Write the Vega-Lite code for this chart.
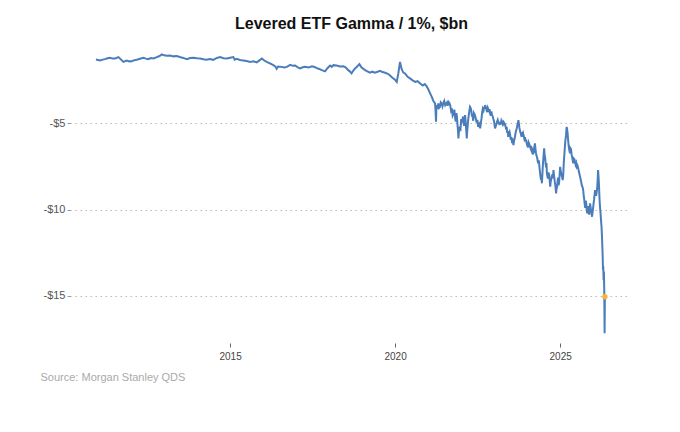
{
  "$schema": "https://vega.github.io/schema/vega-lite/v6.json",
  "width": 553,
  "height": 298,
  "autosize": {"type": "none"},
  "padding": {"left": 75, "top": 45, "right": 52, "bottom": 89},
  "title": {
    "text": "Levered ETF Gamma / 1%, $bn",
    "font": "Liberation Sans",
    "fontSize": 16,
    "fontWeight": "bold",
    "color": "#111111",
    "anchor": "middle",
    "offset": 13
  },
  "config": {
    "font": "Liberation Sans",
    "view": {"stroke": null}
  },
  "datasets": {
    "series": [
      {"date": "2010-12-08", "value": -1.29},
      {"date": "2011-01-22", "value": -1.35},
      {"date": "2011-02-20", "value": -1.30},
      {"date": "2011-03-17", "value": -1.27},
      {"date": "2011-04-15", "value": -1.22},
      {"date": "2011-05-12", "value": -1.19},
      {"date": "2011-06-10", "value": -1.24},
      {"date": "2011-07-08", "value": -1.23},
      {"date": "2011-08-14", "value": -1.15},
      {"date": "2011-09-12", "value": -1.30},
      {"date": "2011-10-08", "value": -1.43},
      {"date": "2011-11-14", "value": -1.35},
      {"date": "2011-12-13", "value": -1.40},
      {"date": "2012-01-08", "value": -1.39},
      {"date": "2012-02-06", "value": -1.33},
      {"date": "2012-03-03", "value": -1.31},
      {"date": "2012-04-09", "value": -1.25},
      {"date": "2012-05-15", "value": -1.19},
      {"date": "2012-06-13", "value": -1.24},
      {"date": "2012-07-09", "value": -1.27},
      {"date": "2012-08-07", "value": -1.21},
      {"date": "2012-09-05", "value": -1.23},
      {"date": "2012-10-12", "value": -1.15},
      {"date": "2012-11-10", "value": -1.09},
      {"date": "2012-12-06", "value": -1.00},
      {"date": "2013-01-01", "value": -1.05},
      {"date": "2013-01-30", "value": -1.08},
      {"date": "2013-03-08", "value": -1.06},
      {"date": "2013-04-13", "value": -1.11},
      {"date": "2013-05-19", "value": -1.09},
      {"date": "2013-06-25", "value": -1.15},
      {"date": "2013-07-31", "value": -1.20},
      {"date": "2013-09-09", "value": -1.27},
      {"date": "2013-10-16", "value": -1.21},
      {"date": "2013-11-21", "value": -1.19},
      {"date": "2013-12-28", "value": -1.22},
      {"date": "2014-02-03", "value": -1.23},
      {"date": "2014-03-11", "value": -1.28},
      {"date": "2014-04-16", "value": -1.31},
      {"date": "2014-05-23", "value": -1.26},
      {"date": "2014-06-28", "value": -1.31},
      {"date": "2014-08-07", "value": -1.20},
      {"date": "2014-09-13", "value": -1.15},
      {"date": "2014-10-19", "value": -1.22},
      {"date": "2014-11-25", "value": -1.23},
      {"date": "2015-01-01", "value": -1.19},
      {"date": "2015-02-06", "value": -1.15},
      {"date": "2015-02-21", "value": -1.30},
      {"date": "2015-03-15", "value": -1.25},
      {"date": "2015-04-20", "value": -1.32},
      {"date": "2015-05-26", "value": -1.35},
      {"date": "2015-07-02", "value": -1.38},
      {"date": "2015-08-11", "value": -1.43},
      {"date": "2015-09-17", "value": -1.40},
      {"date": "2015-10-23", "value": -1.46},
      {"date": "2015-11-25", "value": -1.33},
      {"date": "2015-12-17", "value": -1.23},
      {"date": "2016-01-15", "value": -1.35},
      {"date": "2016-02-10", "value": -1.43},
      {"date": "2016-03-17", "value": -1.52},
      {"date": "2016-04-23", "value": -1.62},
      {"date": "2016-05-15", "value": -1.70},
      {"date": "2016-05-30", "value": -1.83},
      {"date": "2016-06-14", "value": -1.70},
      {"date": "2016-07-24", "value": -1.72},
      {"date": "2016-08-22", "value": -1.76},
      {"date": "2016-09-20", "value": -1.72},
      {"date": "2016-10-27", "value": -1.60},
      {"date": "2016-11-25", "value": -1.66},
      {"date": "2016-12-21", "value": -1.64},
      {"date": "2017-01-19", "value": -1.75},
      {"date": "2017-02-14", "value": -1.81},
      {"date": "2017-03-15", "value": -1.74},
      {"date": "2017-04-09", "value": -1.72},
      {"date": "2017-05-19", "value": -1.75},
      {"date": "2017-06-25", "value": -1.68},
      {"date": "2017-07-24", "value": -1.73},
      {"date": "2017-08-18", "value": -1.79},
      {"date": "2017-09-13", "value": -1.84},
      {"date": "2017-10-12", "value": -1.91},
      {"date": "2017-11-17", "value": -1.98},
      {"date": "2017-12-13", "value": -1.80},
      {"date": "2018-01-11", "value": -1.64},
      {"date": "2018-01-30", "value": -1.72},
      {"date": "2018-02-17", "value": -1.62},
      {"date": "2018-03-25", "value": -1.64},
      {"date": "2018-05-01", "value": -1.70},
      {"date": "2018-06-07", "value": -1.68},
      {"date": "2018-07-02", "value": -1.75},
      {"date": "2018-07-31", "value": -1.91},
      {"date": "2018-08-18", "value": -1.98},
      {"date": "2018-09-06", "value": -2.10},
      {"date": "2018-09-24", "value": -1.95},
      {"date": "2018-10-15", "value": -1.81},
      {"date": "2018-11-07", "value": -1.70},
      {"date": "2018-12-02", "value": -1.56},
      {"date": "2018-12-24", "value": -1.75},
      {"date": "2019-02-03", "value": -1.91},
      {"date": "2019-02-28", "value": -1.98},
      {"date": "2019-03-29", "value": -2.06},
      {"date": "2019-04-23", "value": -2.00},
      {"date": "2019-05-22", "value": -2.06},
      {"date": "2019-06-21", "value": -2.00},
      {"date": "2019-07-19", "value": -1.95},
      {"date": "2019-08-14", "value": -2.02},
      {"date": "2019-09-13", "value": -2.06},
      {"date": "2019-10-12", "value": -2.12},
      {"date": "2019-11-06", "value": -2.22},
      {"date": "2019-12-02", "value": -2.35},
      {"date": "2019-12-28", "value": -2.45},
      {"date": "2020-01-19", "value": -2.59},
      {"date": "2020-02-06", "value": -2.10},
      {"date": "2020-02-24", "value": -1.43},
      {"date": "2020-03-14", "value": -1.85},
      {"date": "2020-04-01", "value": -2.05},
      {"date": "2020-04-20", "value": -2.10},
      {"date": "2020-05-19", "value": -2.30},
      {"date": "2020-06-14", "value": -2.39},
      {"date": "2020-07-13", "value": -2.50},
      {"date": "2020-08-11", "value": -2.59},
      {"date": "2020-09-06", "value": -2.55},
      {"date": "2020-10-05", "value": -2.68},
      {"date": "2020-11-03", "value": -2.80},
      {"date": "2020-11-25", "value": -2.72},
      {"date": "2020-12-16", "value": -2.85},
      {"date": "2021-01-05", "value": -3.05},
      {"date": "2021-01-23", "value": -3.26},
      {"date": "2021-02-10", "value": -3.46},
      {"date": "2021-02-28", "value": -3.70},
      {"date": "2021-03-18", "value": -3.84},
      {"date": "2021-03-23", "value": -4.20},
      {"date": "2021-03-29", "value": -4.91},
      {"date": "2021-04-02", "value": -4.10},
      {"date": "2021-04-08", "value": -3.94},
      {"date": "2021-04-15", "value": -4.15},
      {"date": "2021-04-23", "value": -3.84},
      {"date": "2021-05-02", "value": -4.10},
      {"date": "2021-05-11", "value": -4.04},
      {"date": "2021-05-20", "value": -3.78},
      {"date": "2021-05-30", "value": -3.85},
      {"date": "2021-06-08", "value": -4.02},
      {"date": "2021-06-17", "value": -3.84},
      {"date": "2021-06-28", "value": -3.70},
      {"date": "2021-07-09", "value": -3.95},
      {"date": "2021-07-18", "value": -3.88},
      {"date": "2021-07-27", "value": -3.80},
      {"date": "2021-08-05", "value": -3.98},
      {"date": "2021-08-14", "value": -3.75},
      {"date": "2021-08-24", "value": -3.82},
      {"date": "2021-09-02", "value": -3.95},
      {"date": "2021-09-11", "value": -4.25},
      {"date": "2021-09-20", "value": -4.13},
      {"date": "2021-09-29", "value": -4.55},
      {"date": "2021-10-08", "value": -4.45},
      {"date": "2021-10-18", "value": -4.20},
      {"date": "2021-10-27", "value": -4.71},
      {"date": "2021-11-03", "value": -4.90},
      {"date": "2021-11-10", "value": -4.40},
      {"date": "2021-11-16", "value": -4.65},
      {"date": "2021-11-22", "value": -5.10},
      {"date": "2021-11-27", "value": -5.40},
      {"date": "2021-12-02", "value": -5.87},
      {"date": "2021-12-09", "value": -5.35},
      {"date": "2021-12-17", "value": -5.20},
      {"date": "2021-12-24", "value": -5.45},
      {"date": "2022-01-01", "value": -4.75},
      {"date": "2022-01-08", "value": -4.91},
      {"date": "2022-01-15", "value": -4.80},
      {"date": "2022-01-23", "value": -4.60},
      {"date": "2022-01-28", "value": -4.85},
      {"date": "2022-02-03", "value": -5.15},
      {"date": "2022-02-08", "value": -4.75},
      {"date": "2022-02-14", "value": -4.52},
      {"date": "2022-02-20", "value": -4.90},
      {"date": "2022-02-25", "value": -5.30},
      {"date": "2022-03-01", "value": -5.55},
      {"date": "2022-03-04", "value": -5.87},
      {"date": "2022-03-10", "value": -5.40},
      {"date": "2022-03-15", "value": -5.10},
      {"date": "2022-03-22", "value": -4.70},
      {"date": "2022-03-29", "value": -4.45},
      {"date": "2022-04-04", "value": -4.20},
      {"date": "2022-04-09", "value": -4.04},
      {"date": "2022-04-16", "value": -4.10},
      {"date": "2022-04-23", "value": -4.25},
      {"date": "2022-04-30", "value": -4.55},
      {"date": "2022-05-08", "value": -4.60},
      {"date": "2022-05-15", "value": -4.85},
      {"date": "2022-05-22", "value": -4.40},
      {"date": "2022-06-03", "value": -4.52},
      {"date": "2022-06-12", "value": -4.70},
      {"date": "2022-06-21", "value": -4.95},
      {"date": "2022-06-30", "value": -4.80},
      {"date": "2022-07-09", "value": -5.20},
      {"date": "2022-07-20", "value": -5.05},
      {"date": "2022-07-31", "value": -5.29},
      {"date": "2022-08-07", "value": -5.00},
      {"date": "2022-08-15", "value": -4.70},
      {"date": "2022-08-22", "value": -4.35},
      {"date": "2022-08-29", "value": -4.15},
      {"date": "2022-09-06", "value": -4.25},
      {"date": "2022-09-13", "value": -4.05},
      {"date": "2022-09-19", "value": -4.15},
      {"date": "2022-09-24", "value": -3.94},
      {"date": "2022-10-01", "value": -4.05},
      {"date": "2022-10-08", "value": -4.20},
      {"date": "2022-10-15", "value": -4.35},
      {"date": "2022-10-23", "value": -4.10},
      {"date": "2022-10-30", "value": -4.20},
      {"date": "2022-11-07", "value": -4.30},
      {"date": "2022-11-12", "value": -4.18},
      {"date": "2022-11-18", "value": -4.42},
      {"date": "2022-11-25", "value": -4.55},
      {"date": "2022-12-02", "value": -4.30},
      {"date": "2022-12-09", "value": -4.50},
      {"date": "2022-12-17", "value": -4.60},
      {"date": "2022-12-24", "value": -4.75},
      {"date": "2023-01-01", "value": -4.90},
      {"date": "2023-01-06", "value": -5.10},
      {"date": "2023-01-12", "value": -5.29},
      {"date": "2023-01-20", "value": -5.15},
      {"date": "2023-01-27", "value": -5.05},
      {"date": "2023-02-03", "value": -4.90},
      {"date": "2023-02-10", "value": -4.80},
      {"date": "2023-02-17", "value": -4.95},
      {"date": "2023-02-25", "value": -5.00},
      {"date": "2023-03-02", "value": -5.10},
      {"date": "2023-03-08", "value": -4.91},
      {"date": "2023-03-15", "value": -5.05},
      {"date": "2023-03-22", "value": -4.85},
      {"date": "2023-03-29", "value": -4.95},
      {"date": "2023-04-06", "value": -5.05},
      {"date": "2023-04-13", "value": -4.90},
      {"date": "2023-04-20", "value": -4.95},
      {"date": "2023-04-25", "value": -5.10},
      {"date": "2023-05-01", "value": -5.00},
      {"date": "2023-05-08", "value": -5.20},
      {"date": "2023-05-15", "value": -5.35},
      {"date": "2023-05-20", "value": -5.20},
      {"date": "2023-05-26", "value": -5.55},
      {"date": "2023-06-01", "value": -5.45},
      {"date": "2023-06-06", "value": -5.78},
      {"date": "2023-06-13", "value": -5.60},
      {"date": "2023-06-21", "value": -5.50},
      {"date": "2023-06-28", "value": -5.70},
      {"date": "2023-07-05", "value": -5.95},
      {"date": "2023-07-12", "value": -5.80},
      {"date": "2023-07-20", "value": -6.15},
      {"date": "2023-07-27", "value": -6.05},
      {"date": "2023-08-03", "value": -6.26},
      {"date": "2023-08-10", "value": -6.00},
      {"date": "2023-08-18", "value": -5.85},
      {"date": "2023-08-25", "value": -5.60},
      {"date": "2023-09-02", "value": -5.40},
      {"date": "2023-09-09", "value": -5.30},
      {"date": "2023-09-16", "value": -5.10},
      {"date": "2023-09-21", "value": -5.00},
      {"date": "2023-09-27", "value": -4.81},
      {"date": "2023-10-02", "value": -5.00},
      {"date": "2023-10-08", "value": -5.25},
      {"date": "2023-10-15", "value": -5.45},
      {"date": "2023-10-23", "value": -5.60},
      {"date": "2023-10-28", "value": -5.50},
      {"date": "2023-11-03", "value": -5.78},
      {"date": "2023-11-10", "value": -5.65},
      {"date": "2023-11-17", "value": -5.55},
      {"date": "2023-11-24", "value": -5.70},
      {"date": "2023-12-02", "value": -5.90},
      {"date": "2023-12-09", "value": -5.80},
      {"date": "2023-12-16", "value": -6.05},
      {"date": "2023-12-21", "value": -5.95},
      {"date": "2023-12-27", "value": -6.16},
      {"date": "2024-01-04", "value": -6.30},
      {"date": "2024-01-11", "value": -6.40},
      {"date": "2024-01-18", "value": -6.10},
      {"date": "2024-01-26", "value": -6.20},
      {"date": "2024-02-02", "value": -6.35},
      {"date": "2024-02-09", "value": -6.45},
      {"date": "2024-02-15", "value": -6.30},
      {"date": "2024-02-20", "value": -6.55},
      {"date": "2024-02-27", "value": -6.70},
      {"date": "2024-03-06", "value": -6.80},
      {"date": "2024-03-11", "value": -6.55},
      {"date": "2024-03-17", "value": -6.60},
      {"date": "2024-03-22", "value": -6.35},
      {"date": "2024-03-28", "value": -6.16},
      {"date": "2024-04-02", "value": -6.45},
      {"date": "2024-04-08", "value": -6.70},
      {"date": "2024-04-15", "value": -6.90},
      {"date": "2024-04-22", "value": -7.00},
      {"date": "2024-04-28", "value": -7.20},
      {"date": "2024-05-03", "value": -7.32},
      {"date": "2024-05-10", "value": -7.15},
      {"date": "2024-05-18", "value": -7.60},
      {"date": "2024-05-23", "value": -7.85},
      {"date": "2024-05-29", "value": -8.10},
      {"date": "2024-06-06", "value": -8.00},
      {"date": "2024-06-13", "value": -8.48},
      {"date": "2024-06-18", "value": -8.00},
      {"date": "2024-06-24", "value": -7.40},
      {"date": "2024-07-01", "value": -6.90},
      {"date": "2024-07-08", "value": -6.45},
      {"date": "2024-07-13", "value": -6.80},
      {"date": "2024-07-19", "value": -7.00},
      {"date": "2024-07-24", "value": -7.35},
      {"date": "2024-07-30", "value": -7.55},
      {"date": "2024-08-03", "value": -7.30},
      {"date": "2024-08-07", "value": -7.90},
      {"date": "2024-08-12", "value": -8.05},
      {"date": "2024-08-18", "value": -8.20},
      {"date": "2024-08-25", "value": -7.85},
      {"date": "2024-09-02", "value": -8.00},
      {"date": "2024-09-08", "value": -8.35},
      {"date": "2024-09-13", "value": -8.68},
      {"date": "2024-09-18", "value": -8.40},
      {"date": "2024-09-24", "value": -8.25},
      {"date": "2024-10-01", "value": -8.10},
      {"date": "2024-10-08", "value": -7.95},
      {"date": "2024-10-13", "value": -8.20},
      {"date": "2024-10-19", "value": -7.71},
      {"date": "2024-10-26", "value": -8.05},
      {"date": "2024-11-03", "value": -8.40},
      {"date": "2024-11-10", "value": -8.65},
      {"date": "2024-11-17", "value": -9.06},
      {"date": "2024-11-22", "value": -8.80},
      {"date": "2024-11-28", "value": -8.70},
      {"date": "2024-12-03", "value": -8.40},
      {"date": "2024-12-09", "value": -8.15},
      {"date": "2024-12-14", "value": -8.60},
      {"date": "2024-12-20", "value": -8.45},
      {"date": "2024-12-26", "value": -8.00},
      {"date": "2025-01-01", "value": -7.52},
      {"date": "2025-01-08", "value": -7.80},
      {"date": "2025-01-15", "value": -7.95},
      {"date": "2025-01-22", "value": -8.10},
      {"date": "2025-01-30", "value": -8.29},
      {"date": "2025-02-05", "value": -7.90},
      {"date": "2025-02-10", "value": -7.30},
      {"date": "2025-02-18", "value": -6.70},
      {"date": "2025-02-25", "value": -6.16},
      {"date": "2025-03-02", "value": -5.90},
      {"date": "2025-03-07", "value": -5.70},
      {"date": "2025-03-10", "value": -5.45},
      {"date": "2025-03-14", "value": -5.20},
      {"date": "2025-03-19", "value": -5.35},
      {"date": "2025-03-25", "value": -5.60},
      {"date": "2025-03-30", "value": -5.95},
      {"date": "2025-04-05", "value": -6.30},
      {"date": "2025-04-12", "value": -6.55},
      {"date": "2025-04-20", "value": -6.74},
      {"date": "2025-04-25", "value": -6.45},
      {"date": "2025-05-01", "value": -6.50},
      {"date": "2025-05-08", "value": -6.80},
      {"date": "2025-05-15", "value": -7.00},
      {"date": "2025-05-20", "value": -7.15},
      {"date": "2025-05-26", "value": -7.32},
      {"date": "2025-06-03", "value": -7.05},
      {"date": "2025-06-10", "value": -7.10},
      {"date": "2025-06-15", "value": -7.25},
      {"date": "2025-06-21", "value": -7.40},
      {"date": "2025-06-28", "value": -7.30},
      {"date": "2025-07-05", "value": -7.52},
      {"date": "2025-07-12", "value": -7.45},
      {"date": "2025-07-20", "value": -7.60},
      {"date": "2025-07-27", "value": -7.80},
      {"date": "2025-08-03", "value": -7.95},
      {"date": "2025-08-10", "value": -8.10},
      {"date": "2025-08-18", "value": -8.30},
      {"date": "2025-08-24", "value": -8.45},
      {"date": "2025-08-29", "value": -8.60},
      {"date": "2025-09-06", "value": -8.70},
      {"date": "2025-09-13", "value": -8.87},
      {"date": "2025-09-18", "value": -9.15},
      {"date": "2025-09-24", "value": -9.40},
      {"date": "2025-09-30", "value": -9.70},
      {"date": "2025-10-05", "value": -9.90},
      {"date": "2025-10-10", "value": -9.50},
      {"date": "2025-10-16", "value": -9.60},
      {"date": "2025-10-21", "value": -9.95},
      {"date": "2025-10-27", "value": -10.22},
      {"date": "2025-11-02", "value": -9.95},
      {"date": "2025-11-07", "value": -9.80},
      {"date": "2025-11-12", "value": -10.05},
      {"date": "2025-11-18", "value": -10.30},
      {"date": "2025-11-23", "value": -9.90},
      {"date": "2025-11-28", "value": -9.64},
      {"date": "2025-12-04", "value": -9.85},
      {"date": "2025-12-09", "value": -10.10},
      {"date": "2025-12-15", "value": -10.25},
      {"date": "2025-12-20", "value": -10.42},
      {"date": "2025-12-26", "value": -10.15},
      {"date": "2026-01-01", "value": -9.90},
      {"date": "2026-01-07", "value": -9.60},
      {"date": "2026-01-12", "value": -9.40},
      {"date": "2026-01-18", "value": -9.10},
      {"date": "2026-01-23", "value": -8.87},
      {"date": "2026-01-29", "value": -9.05},
      {"date": "2026-02-03", "value": -9.20},
      {"date": "2026-02-09", "value": -9.00},
      {"date": "2026-02-14", "value": -8.80},
      {"date": "2026-02-20", "value": -8.30},
      {"date": "2026-02-25", "value": -7.71},
      {"date": "2026-03-02", "value": -8.10},
      {"date": "2026-03-07", "value": -8.60},
      {"date": "2026-03-12", "value": -9.30},
      {"date": "2026-03-18", "value": -9.84},
      {"date": "2026-03-24", "value": -10.20},
      {"date": "2026-03-29", "value": -10.60},
      {"date": "2026-04-04", "value": -11.00},
      {"date": "2026-04-09", "value": -11.58},
      {"date": "2026-04-16", "value": -12.60},
      {"date": "2026-04-20", "value": -13.50},
      {"date": "2026-04-23", "value": -13.30},
      {"date": "2026-04-27", "value": -14.10},
      {"date": "2026-04-30", "value": -13.60},
      {"date": "2026-05-04", "value": -14.60},
      {"date": "2026-05-08", "value": -17.19},
      {"date": "2026-05-11", "value": -15.06}
    ],
    "latest": [
      {"date": "2026-05-11", "value": -15.06}
    ]
  },
  "layer": [
    {
      "data": {"name": "series"},
      "mark": {"type": "line", "color": "#4a7dba", "strokeWidth": 2},
      "encoding": {
        "x": {
          "field": "date",
          "type": "temporal",
          "scale": {"domain": ["2010-04-20", "2027-01-22"]},
          "axis": {
            "values": [{"year": 2015}, {"year": 2020}, {"year": 2025}],
            "format": "%Y",
            "grid": false,
            "domain": false,
            "tickSize": 4,
            "tickColor": "#666666",
            "labelColor": "#444444",
            "labelFontSize": 10,
            "labelPadding": 4,
            "title": "Source: Morgan Stanley QDS",
            "titleFontSize": 11,
            "titleFontWeight": "normal",
            "titleColor": "#aaaaaa",
            "titleAlign": "left",
            "titleAnchor": "start",
            "titleBaseline": "middle",
            "titleX": -35,
            "titleY": 34
          }
        },
        "y": {
          "field": "value",
          "type": "quantitative",
          "scale": {"domain": [-17.75, -0.45], "nice": false, "zero": false},
          "axis": {
            "values": [-15, -10, -5],
            "labelExpr": "'-$' + abs(datum.value)",
            "title": null,
            "grid": true,
            "gridDash": [1.5, 3.5],
            "gridColor": "#bbbbbb",
            "domain": false,
            "tickSize": 4,
            "tickColor": "#999999",
            "labelColor": "#555555",
            "labelFontSize": 11,
            "labelPadding": 2,
            "offset": 4
          }
        }
      }
    },
    {
      "data": {"name": "latest"},
      "mark": {"type": "point", "filled": true, "color": "#f4b63f", "size": 30, "opacity": 1},
      "encoding": {
        "x": {"field": "date", "type": "temporal"},
        "y": {"field": "value", "type": "quantitative"}
      }
    }
  ]
}
